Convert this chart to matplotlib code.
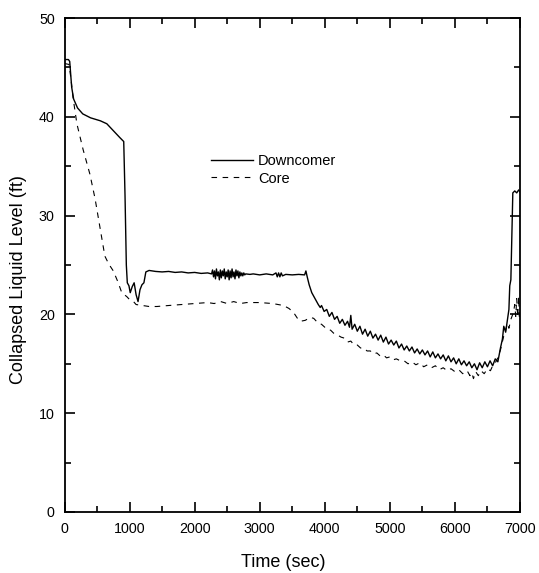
import matplotlib
matplotlib.use("Agg")
import matplotlib.pyplot as plt
from matplotlib.ticker import MultipleLocator

plt.rcParams["font.family"] = ["Liberation Sans", "DejaVu Sans"]

# Downcomer collapsed level (ft) vs time (sec)
downcomer_t = [
    0, 60, 80, 110, 140, 200, 280, 400, 550, 650, 750, 850, 910, 930, 950,
    965, 990, 1010, 1040, 1070, 1100, 1130, 1160, 1190, 1220, 1250, 1300,
    1400, 1500, 1600, 1700, 1800, 1900, 2000, 2100, 2200,
    2260, 2275, 2290, 2305, 2320, 2335, 2350, 2365, 2380, 2395, 2410, 2425,
    2440, 2455, 2470, 2485, 2500, 2515, 2530, 2545, 2560, 2575, 2590, 2605,
    2620, 2635, 2650, 2665, 2680, 2695, 2710, 2725, 2740, 2755, 2770, 2785,
    2850, 2900, 3000, 3100, 3200, 3250, 3270, 3290, 3310,
    3330, 3350, 3400, 3500, 3600, 3690, 3710, 3730, 3760, 3800, 3850, 3900,
    3930, 3950, 3990, 4030, 4070, 4110, 4150, 4190, 4230, 4270, 4310, 4350,
    4380, 4400, 4420, 4460, 4500, 4540, 4580, 4620, 4660, 4700, 4740, 4780,
    4820, 4860, 4900, 4940, 4980, 5020, 5060, 5100, 5140, 5180, 5220, 5260,
    5300, 5340, 5380, 5420, 5460, 5500, 5540, 5580, 5620, 5660, 5700, 5740,
    5780, 5820, 5860, 5900, 5940, 5980, 6020, 6060, 6100, 6140, 6180, 6220,
    6260, 6300, 6340, 6380, 6420, 6460, 6500, 6540, 6580, 6620, 6660, 6700,
    6730, 6751, 6780, 6810, 6830, 6843, 6860, 6875, 6890, 6920, 6950, 6980,
    7000,
]
downcomer_lvl = [
    45.8, 45.8, 45.6, 43.0, 41.8, 40.9, 40.3, 39.9, 39.6, 39.3, 38.6, 37.9,
    37.5, 32.0, 25.0, 23.2, 22.9, 22.2, 22.8, 23.2, 22.0, 21.3, 22.5, 23.0,
    23.2, 24.3, 24.45, 24.35, 24.3, 24.35, 24.25, 24.3, 24.2, 24.25, 24.15,
    24.2,
    24.1, 24.5, 23.8, 24.4, 23.6, 24.6, 23.9, 24.3, 23.5, 24.5, 23.7, 24.4,
    23.9, 24.6, 23.6, 24.3, 23.8, 24.5, 23.5, 24.4, 23.7, 24.6, 23.8, 24.3,
    23.6, 24.5, 23.9, 24.4, 23.7, 24.3, 23.9, 24.2, 23.9, 24.2, 24.0, 24.1,
    24.05, 24.1, 24.0, 24.1, 24.0, 24.2, 23.8, 24.2, 23.8,
    24.2, 23.9, 24.05, 24.0, 24.05, 24.0, 24.4, 23.8, 23.0, 22.2, 21.6, 21.0,
    20.7, 20.9, 20.3, 20.5, 19.8, 20.2, 19.5, 19.8, 19.1, 19.5, 18.9, 19.3,
    18.7, 19.9, 18.5, 19.0, 18.3, 18.8, 18.0, 18.5, 17.8, 18.3, 17.6, 18.0,
    17.4, 17.9, 17.2, 17.7, 17.0, 17.4, 16.9, 17.3, 16.6, 17.0, 16.4, 16.8,
    16.3, 16.7, 16.1, 16.5, 16.0, 16.4, 15.9, 16.3, 15.7, 16.2, 15.6, 16.0,
    15.5, 15.9, 15.3, 15.8, 15.2, 15.6, 15.0, 15.5, 14.9, 15.3, 14.8, 15.2,
    14.6, 15.0, 14.4, 15.1, 14.6, 15.2, 14.7, 15.3, 14.8, 15.5, 15.2, 16.6,
    17.5, 18.8, 18.2, 19.6, 20.5, 22.9, 23.5, 28.0, 32.3, 32.5, 32.3, 32.6,
    32.4,
]

# Core collapsed level (ft) vs time (sec)
core_t = [
    0, 70, 100, 130, 190, 285, 390, 470, 550, 620, 680, 750, 820, 880, 957,
    1000, 1060, 1100, 1200, 1300, 1420, 1600, 1800, 2000, 2200, 2300, 2400,
    2500, 2600, 2700, 2800, 3000, 3200, 3366, 3450, 3520, 3580, 3623, 3700,
    3777, 3830, 3900, 3950, 4034, 4090, 4136, 4200, 4250, 4300, 4350, 4400,
    4450, 4500, 4550, 4600, 4650, 4700, 4750, 4800, 4850, 4900, 4950, 5000,
    5050, 5100, 5162, 5220, 5280, 5340, 5400, 5460, 5520, 5580, 5640, 5700,
    5760, 5820, 5880, 5940, 6000, 6060, 6120, 6188, 6230, 6260, 6285, 6320,
    6360, 6400, 6450, 6500, 6546, 6580, 6620, 6660, 6700, 6750, 6780, 6803,
    6830, 6860, 6900, 6920, 6935, 6950, 6965, 6980, 6990, 7000,
]
core_lvl = [
    45.4, 45.3, 43.8, 42.0, 39.3, 36.7, 34.2, 31.7, 28.6, 25.9, 25.1, 24.4,
    23.3, 22.2, 21.8, 21.5, 21.3, 21.0, 20.9, 20.8, 20.8, 20.9, 21.0, 21.1,
    21.2, 21.1, 21.3, 21.1, 21.3, 21.1, 21.2, 21.2, 21.1, 20.9, 20.6, 20.2,
    19.6, 19.3, 19.4, 19.7, 19.6, 19.1, 19.0, 18.5, 18.4, 18.1, 17.9, 17.7,
    17.6, 17.2, 17.3, 16.9, 16.9, 16.6, 16.6, 16.3, 16.3, 16.0, 16.1, 15.8,
    15.9, 15.6, 15.7, 15.4, 15.5, 15.3, 15.3, 15.0, 15.2, 14.9, 15.1, 14.7,
    14.9, 14.6, 14.8, 14.4, 14.6, 14.3, 14.5, 14.2, 14.4, 14.0, 14.3, 13.8,
    14.1, 13.5, 14.2, 13.8, 14.3, 14.0, 14.5, 14.3, 14.8, 15.1, 15.6, 16.4,
    17.8, 18.4, 19.1, 18.6, 19.5, 20.2, 21.0, 19.8, 21.6, 19.7, 21.8, 19.8,
    20.1,
]

fig = plt.figure(figsize=(5.39, 5.73), dpi=100)
ax = fig.add_axes([0.1197, 0.1065, 0.845, 0.862])

ax.plot(downcomer_t, downcomer_lvl, color="black", lw=1.0, label="Downcomer")
ax.plot(core_t, core_lvl, color="black", lw=0.8, linestyle=(0, (5, 5)),
        label="Core")

ax.set_xlim(0, 7000)
ax.set_ylim(0, 50)
ax.xaxis.set_major_locator(MultipleLocator(1000))
ax.xaxis.set_minor_locator(MultipleLocator(500))
ax.yaxis.set_major_locator(MultipleLocator(10))
ax.yaxis.set_minor_locator(MultipleLocator(5))
ax.tick_params(which="both", direction="in", top=True, right=True,
               width=1.2, labelsize=10.3, pad=7)
ax.tick_params(which="major", length=7)
ax.tick_params(which="minor", length=4)
for sp in ax.spines.values():
    sp.set_linewidth(1.3)

ax.set_xlabel("Time (sec)", fontsize=13)
ax.set_ylabel("Collapsed Liquid Level (ft)", fontsize=13)
ax.xaxis.set_label_coords(0.48, -0.085)
ax.yaxis.set_label_coords(-0.083, 0.47)

ax.legend(loc="upper left", bbox_to_anchor=(0.322, 0.725), frameon=False,
          fontsize=10.5, handlelength=2.9, handletextpad=0.3,
          borderpad=0, borderaxespad=0, labelspacing=0.25)

fig.savefig("out.png", dpi=100)
